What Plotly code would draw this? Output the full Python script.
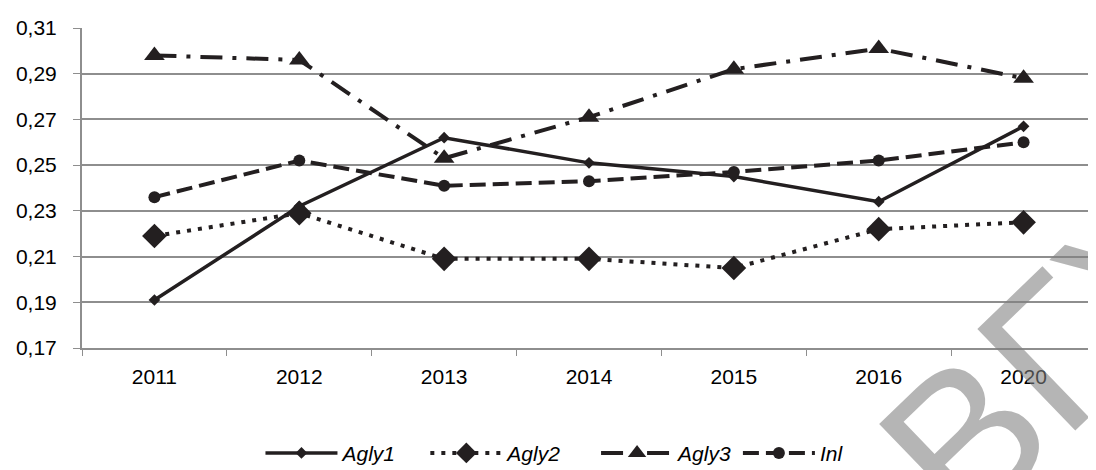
import plotly.graph_objects as go

years = ["2011", "2012", "2013", "2014", "2015", "2016", "2020"]
agly1 = [0.191, 0.232, 0.262, 0.251, 0.245, 0.234, 0.267]
agly2 = [0.219, 0.229, 0.209, 0.209, 0.205, 0.222, 0.225]
agly3 = [0.298, 0.296, 0.253, 0.271, 0.292, 0.301, 0.288]
inl = [0.236, 0.252, 0.241, 0.243, 0.247, 0.252, 0.260]
y_ticks = [0.17, 0.19, 0.21, 0.23, 0.25, 0.27, 0.29, 0.31]
series_names = ["Agly1", "Agly2", "Agly3", "Inl"]

INK = "#231f20"
GRID = "#8e8e8e"
FONT = "Liberation Sans, Arial, sans-serif"
NB = "\u00a0"
pads = [4, 5, 0, 0]
labels = [f"<i>{n}</i>" + NB * p for n, p in zip(series_names, pads)]

fig = go.Figure()
fig.add_trace(go.Scatter(
    x=years, y=agly1, name=labels[0], mode="lines+markers",
    line=dict(color=INK, width=3.5),
    marker=dict(symbol="diamond", size=9, color=INK)))
fig.add_trace(go.Scatter(
    x=years, y=agly2, name=labels[1], mode="lines+markers",
    line=dict(color=INK, width=4, dash="4px,7px"),
    marker=dict(symbol="diamond", size=19, color=INK)))
fig.add_trace(go.Scatter(
    x=years, y=agly3, name=labels[2], mode="lines+markers",
    line=dict(color=INK, width=4, dash="22px,10px,4px,10px"),
    marker=dict(symbol="triangle-up", size=18, color=INK)))
fig.add_trace(go.Scatter(
    x=years, y=inl, name=labels[3], mode="lines+markers",
    line=dict(color=INK, width=4, dash="16px,7px"),
    marker=dict(symbol="circle", size=12, color=INK)))

fig.update_layout(
    width=1096, height=480,
    margin=dict(l=70, r=8, t=12, b=140),
    paper_bgcolor="white", plot_bgcolor="white",
    separators=", ",
    font=dict(family=FONT, size=21, color="black"),
    showlegend=True,
    legend=dict(orientation="h", x=0.176, y=-0.329, xanchor="left", yanchor="middle",
                font=dict(family=FONT, size=21, color="black"),
                itemwidth=72, traceorder="normal"),
    xaxis=dict(type="category", range=[-0.5, 6.5], showgrid=False,
               showline=True, linecolor=GRID, linewidth=2,
               ticks="outside", tickson="boundaries", ticklen=6, tickcolor=GRID,
               ticklabelstandoff=9,
               tickfont=dict(family=FONT, size=21, color="black")),
    yaxis=dict(range=[0.17, 0.31], tickvals=y_ticks, tickformat=".2f",
               showgrid=True, gridcolor=GRID, gridwidth=1.5,
               showline=True, linecolor=GRID, linewidth=2,
               ticks="outside", ticklen=7, tickcolor=GRID,
               ticklabelstandoff=12,
               zeroline=False,
               tickfont=dict(family=FONT, size=21, color="black")),
    annotations=[dict(text="ВГУ", xref="paper", yref="paper", x=0.957, y=-0.018,
                      xanchor="center", yanchor="middle", showarrow=False,
                      textangle=-44,
                      font=dict(family=FONT, size=205, color="rgba(128,128,128,0.58)"))],
)

fig.write_html("out.html")
